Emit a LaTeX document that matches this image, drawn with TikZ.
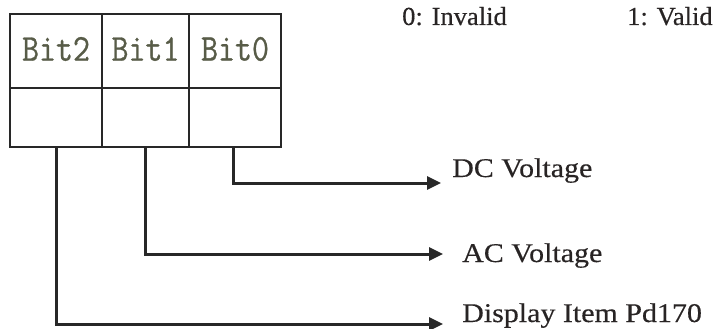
\documentclass[tikz,border=0pt]{standalone}
\usepackage{fontspec}
\usetikzlibrary{arrows.meta}
\newfontfamily\lblfont[FakeStretch=1.11,FakeBold=0.4]{Liberation Serif}
\newfontfamily\hdrfont[FakeStretch=1.02,FakeBold=0.4]{Liberation Serif}
\newfontfamily\bitfont[FakeBold=0.8]{Latin Modern Mono}
\definecolor{ink}{RGB}{40,36,36}
\definecolor{linec}{RGB}{40,40,40}
\definecolor{bitc}{RGB}{88,92,72}
\begin{document}
\begin{tikzpicture}[x=1pt,y=-1pt,
  cellbox/.style={draw=linec,line width=2.2pt,minimum height=#1,inner sep=0pt,outer sep=0pt},
  bitlbl/.style={text=bitc,font=\bitfont\fontsize{33}{33}\selectfont},
  lbl/.style={text=ink,anchor=base west,inner sep=0pt,font=\lblfont\fontsize{27}{27}\selectfont},
  hdr/.style={text=ink,anchor=base west,inner sep=0pt,font=\hdrfont\fontsize{26}{26}\selectfont},
  conn/.style={draw=linec,line width=3pt,-{Triangle[length=14pt,width=13pt]}}]
\useasboundingbox (0,0) rectangle (720,329);
% top row
\node[cellbox=74pt,minimum width=92pt,anchor=north west] (t2) at (10,14) {};
\node[cellbox=74pt,minimum width=87pt,anchor=north west] (t1) at (102,14) {};
\node[cellbox=74pt,minimum width=92pt,anchor=north west] (t0) at (189,14) {};
% bottom row
\node[cellbox=59pt,minimum width=92pt,anchor=north west] (c2) at (10,88) {};
\node[cellbox=59pt,minimum width=87pt,anchor=north west] (c1) at (102,88) {};
\node[cellbox=59pt,minimum width=92pt,anchor=north west] (c0) at (189,88) {};
% bit labels
\node[bitlbl] (l2) at ([yshift=2pt]t2.center) {\scalebox{1}[1.15]{Bit2}};
\node[bitlbl] (l1) at ([yshift=2pt]t1.center) {\scalebox{1}[1.15]{Bit1}};
\node[bitlbl] (l0) at ([yshift=2pt]t0.center) {\scalebox{1}[1.15]{Bit0}};
% header texts
\node[hdr] (inv) at (402,25) {0: Invalid};
\node[hdr] (val) at (627,25) {1: Valid};
% output labels
\node[lbl] (dc) at (452,177) {DC Voltage};
\node[lbl] (ac) at (462,262) {AC Voltage};
\node[lbl] (disp) at (462,322) {Display Item Pd170};
% arrow ends
\coordinate (dcend) at (441,183);
\coordinate (acend) at (443,254);
\coordinate (dispend) at (443,324);
% connectors
\draw[conn] ([xshift=-2pt]c0.south) |- (dcend);
\draw[conn] (c1.south) |- (acend);
\draw[conn] (c2.south) |- (dispend);
\end{tikzpicture}
\end{document}
